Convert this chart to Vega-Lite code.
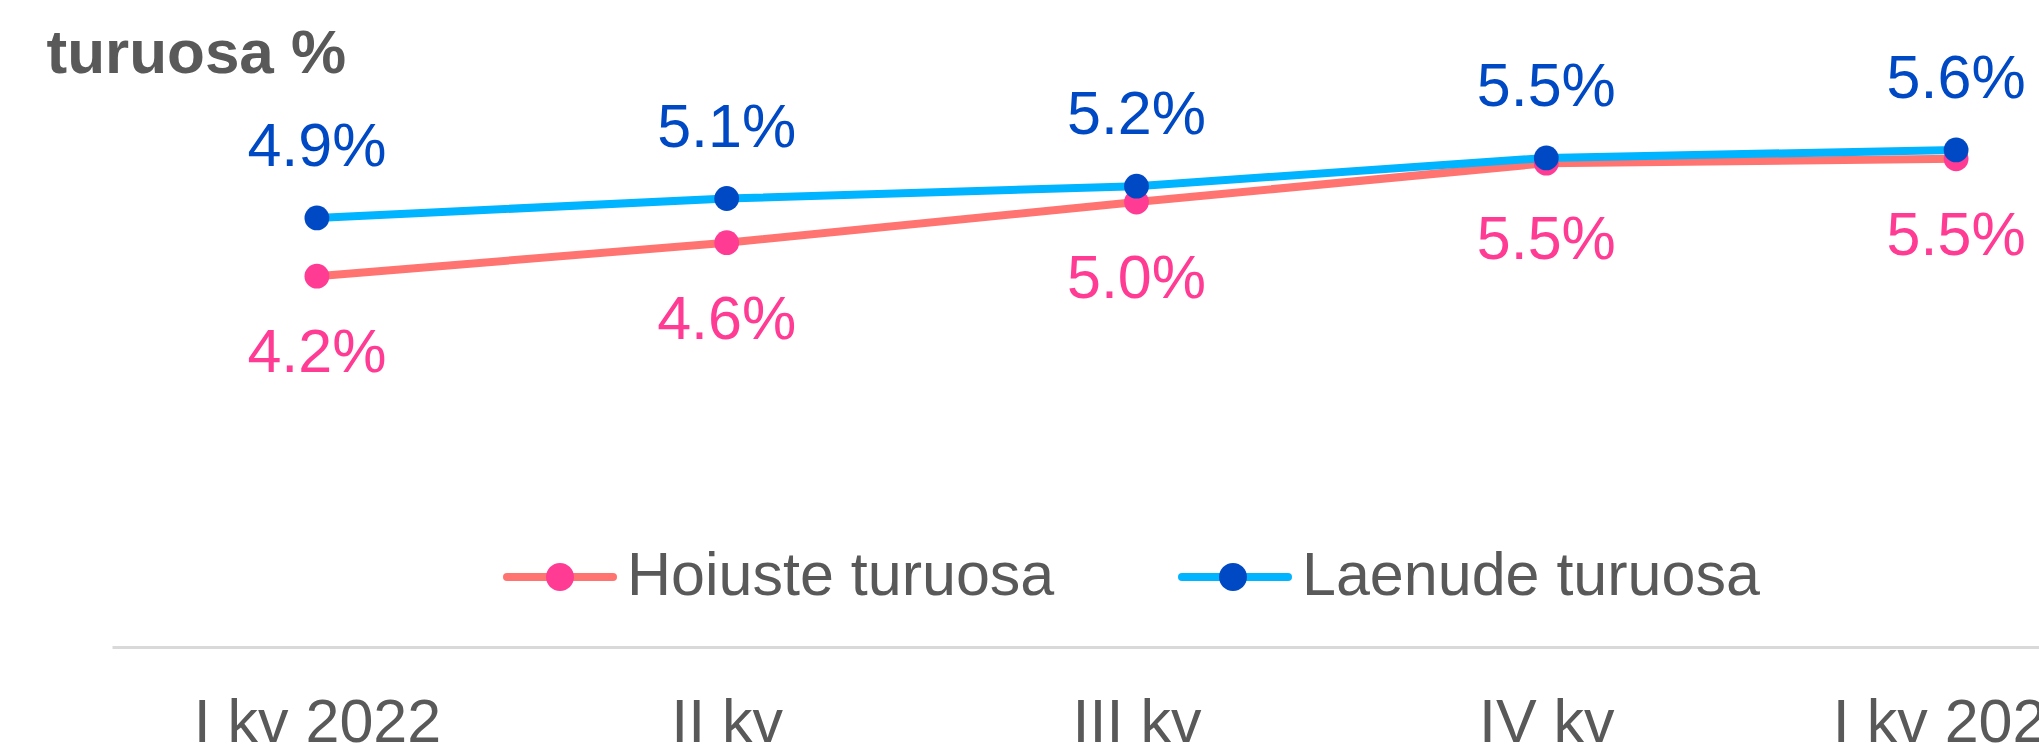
{
  "$schema": "https://vega.github.io/schema/vega-lite/v6.json",
  "autosize": "none",
  "width": 2049,
  "height": 618,
  "padding": {"left": 112, "top": 29, "right": 0, "bottom": 97},
  "background": "white",
  "config": {"view": {"stroke": null}, "font": "Liberation Sans"},
  "data": {"values": [
    {"kv": "I kv 2022", "seeria": "Hoiuste turuosa", "seeria2": "Hoiuste turuosa", "v": 0.0420},
    {"kv": "II kv", "seeria": "Hoiuste turuosa", "seeria2": "Hoiuste turuosa", "v": 0.0458},
    {"kv": "III kv", "seeria": "Hoiuste turuosa", "seeria2": "Hoiuste turuosa", "v": 0.0504},
    {"kv": "IV kv", "seeria": "Hoiuste turuosa", "seeria2": "Hoiuste turuosa", "v": 0.0548},
    {"kv": "I kv 2023", "seeria": "Hoiuste turuosa", "seeria2": "Hoiuste turuosa", "v": 0.0553},
    {"kv": "I kv 2022", "seeria": "Laenude turuosa", "seeria2": "Laenude turuosa", "v": 0.0486},
    {"kv": "II kv", "seeria": "Laenude turuosa", "seeria2": "Laenude turuosa", "v": 0.0508},
    {"kv": "III kv", "seeria": "Laenude turuosa", "seeria2": "Laenude turuosa", "v": 0.0522},
    {"kv": "IV kv", "seeria": "Laenude turuosa", "seeria2": "Laenude turuosa", "v": 0.0554},
    {"kv": "I kv 2023", "seeria": "Laenude turuosa", "seeria2": "Laenude turuosa", "v": 0.0563}
  ]},
  "encoding": {
    "x": {
      "field": "kv", "type": "nominal",
      "sort": ["I kv 2022", "II kv", "III kv", "IV kv", "I kv 2023"],
      "axis": {
        "title": null, "labelAngle": 0, "ticks": false, "tickSize": 0,
        "domainColor": "#D9D9D9", "domainWidth": 3,
        "labelFont": "Liberation Sans", "labelFontSize": 61, "labelColor": "#595959", "labelLimit": 1000,
        "labelBaseline": "alphabetic", "labelPadding": 94, "labelOverlap": false, "labelBound": false, "labelFlush": false
      }
    },
    "y": {
      "field": "v", "type": "quantitative",
      "scale": {"domain": [0, 0.07], "nice": false, "zero": false},
      "axis": {
        "title": "turuosa %", "labels": false, "ticks": false, "domain": false, "grid": false,
        "titleAngle": 0, "titleX": -66, "titleY": 43, "titleAlign": "left", "titleBaseline": "alphabetic",
        "titleFont": "Liberation Sans", "titleFontSize": 62, "titleFontWeight": "bold", "titleColor": "#595959"
      }
    }
  },
  "layer": [
    {
      "mark": {"type": "line", "strokeWidth": 8, "strokeJoin": "round", "strokeCap": "round"},
      "encoding": {
        "stroke": {
          "field": "seeria", "type": "nominal",
          "scale": {"domain": ["Hoiuste turuosa", "Laenude turuosa"], "range": ["#FF7470", "#00B4FF"]},
          "legend": {
            "title": null, "orient": "none", "legendX": 391, "legendY": 491, "direction": "horizontal",
            "padding": 0, "offset": 0,
            "symbolType": "M-1,0L1,0", "symbolSize": 11236, "symbolStrokeWidth": 8, "symbolFillColor": "transparent",
            "labelFont": "Liberation Sans", "labelFontSize": 61, "labelColor": "#595959", "labelOffset": 10, "labelLimit": 1000,
            "columnPadding": 111,
            "encode": {"symbols": {"update": {"strokeCap": {"value": "round"}}}}
          }
        }
      }
    },
    {
      "mark": {"type": "point", "filled": true, "size": 615, "opacity": 1, "strokeWidth": 0},
      "encoding": {
        "fill": {
          "field": "seeria2", "type": "nominal",
          "scale": {"range": ["#FF3B94", "#0049C4"]},
          "legend": {
            "title": null, "orient": "none", "legendX": 391, "legendY": 491, "direction": "horizontal",
            "padding": 0, "offset": 0,
            "symbolType": "M0.2456,0C0.2456,0.1356 0.1356,0.2456 0,0.2456C-0.1356,0.2456 -0.2456,0.1356 -0.2456,0C-0.2456,-0.1356 -0.1356,-0.2456 0,-0.2456C0.1356,-0.2456 0.2456,-0.1356 0.2456,0Z",
            "symbolSize": 12996, "symbolStrokeWidth": 0, "symbolOpacity": 1,
            "labelFont": "Liberation Sans", "labelFontSize": 61, "labelColor": "#595959", "labelOpacity": 0, "labelOffset": 10, "labelLimit": 1000,
            "columnPadding": 121
          }
        }
      }
    },
    {
      "transform": [{"filter": "datum.seeria == 'Laenude turuosa'"}],
      "mark": {"type": "text", "align": "center", "baseline": "alphabetic", "dy": -52, "fontSize": 61, "font": "Liberation Sans", "color": "#0049C4"},
      "encoding": {"text": {"field": "v", "type": "quantitative", "format": ".1%"}}
    },
    {
      "transform": [{"filter": "datum.seeria == 'Hoiuste turuosa'"}],
      "mark": {"type": "text", "align": "center", "baseline": "alphabetic", "dy": 96, "fontSize": 61, "font": "Liberation Sans", "color": "#FF3B94"},
      "encoding": {"text": {"field": "v", "type": "quantitative", "format": ".1%"}}
    }
  ]
}
